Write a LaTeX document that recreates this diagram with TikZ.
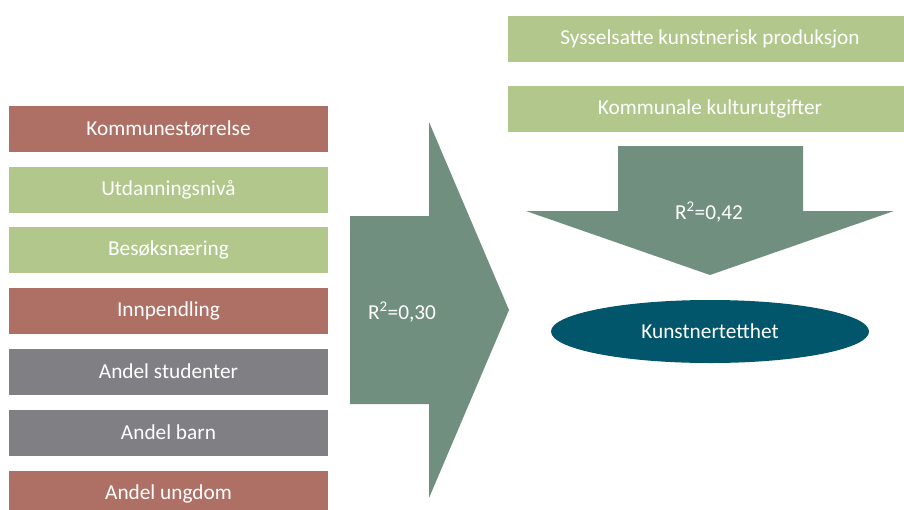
\documentclass[tikz,border=0pt]{standalone}
\usepackage{fontspec}
\setmainfont{Carlito}
\usetikzlibrary{shapes.geometric}
\definecolor{cbrown}{RGB}{174,112,101}
\definecolor{cgreen}{RGB}{178,199,139}
\definecolor{cgray}{RGB}{128,127,132}
\definecolor{carrow}{RGB}{113,143,127}
\definecolor{cdeep}{RGB}{1,86,108}
\tikzset{
  box/.style={rectangle, inner sep=0pt, minimum height=46pt, text=white, font=\fontsize{21.3}{25}\selectfont},
  lbox/.style={box, minimum width=319pt},
  rbox/.style={box, minimum width=404pt},
  arrowshape/.style={fill=carrow, draw=none},
  lbl/.style={text=white, font=\fontsize{21.3}{25}\selectfont, inner sep=0pt}
}
\begin{document}
\begin{tikzpicture}[x=1pt,y=-1pt]
\clip (0,0) rectangle (904,509);
\fill[white] (0,0) rectangle (904,509);
% left boxes
\node[lbox, fill=cbrown] (k1) at (168.5,128.5) {Kommunestørrelse};
\node[lbox, fill=cgreen] (k2) at (168.5,189.5) {Utdanningsnivå};
\node[lbox, fill=cgreen] (k3) at (168.5,249.5) {Besøksnæring};
\node[lbox, fill=cbrown] (k4) at (168.5,310.5) {Innpendling};
\node[lbox, fill=cgray] (k5) at (168.5,371.5) {Andel studenter};
\node[lbox, fill=cgray] (k6) at (168.5,432.5) {Andel barn};
\node[lbox, fill=cbrown] (k7) at (168.5,493.5) {Andel ungdom};
% big right arrow
\fill[arrowshape] (350,216) -- (429,216) -- (429,122) -- (509,310) -- (429,498) -- (429,404) -- (350,404) -- cycle;
\node[lbl] (r1) at (402,312) {R\textsuperscript{2}=0,30};
% right boxes
\node[rbox, fill=cgreen] (s1) at (710,38.5) {Sysselsatte kunstnerisk produksjon};
\node[rbox, fill=cgreen] (s2) at (710,108.5) {Kommunale kulturutgifter};
% down arrow
\fill[arrowshape] (618,146) -- (803,146) -- (803,211) -- (894,211) -- (710,275) -- (526,211) -- (618,211) -- cycle;
\node[lbl] (r2) at (709,212) {R\textsuperscript{2}=0,42};
% ellipse
\node[ellipse, fill=cdeep, minimum width=318pt, minimum height=63pt, inner sep=0pt, text=white, font=\fontsize{21.3}{25}\selectfont] (kt) at (710,331.5) {Kunstnertetthet};
\end{tikzpicture}
\end{document}
